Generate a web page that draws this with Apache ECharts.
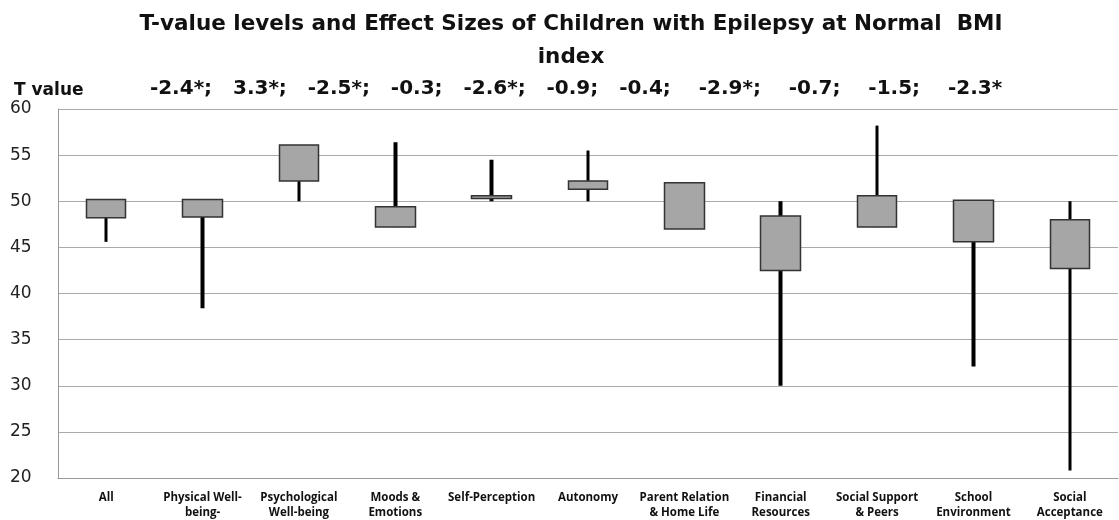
<!DOCTYPE html>
<html>
<head>
<meta charset="utf-8">
<script src="https://cdn.jsdelivr.net/npm/echarts@6/dist/echarts.min.js"></script>
<style>
html,body{margin:0;padding:0;background:#fff}
#main{width:1119px;height:520px}
</style>
</head>
<body>
<div id="main"></div>
<script>
// categories on the x axis
var categories = ['All', 'Physical Well-\nbeing-', 'Psychological\nWell-being', 'Moods &\nEmotions', 'Self-Perception',
	'Autonomy', 'Parent Relation\n& Home Life', 'Financial\nResources', 'Social Support\n& Peers', 'School\nEnvironment', 'Social\nAcceptance']
// box top / bottom
var boxTop = [50.2, 50.2, 56.1, 49.4, 50.6, 52.2, 52.0, 48.4, 50.6, 50.1, 48.0]
var boxBottom = [48.2, 48.3, 52.2, 47.2, 50.3, 51.3, 47.0, 42.5, 47.2, 45.6, 42.7]
// whisker ends
var whiskerLow = [45.6, 38.4, 50.0, 47.2, 50.0, 50.0, 47.0, 30.0, 47.2, 32.1, 20.8]
var whiskerHigh = [50.2, 50.2, 52.2, 56.4, 54.5, 55.5, 52.0, 50.0, 58.2, 50.1, 50.0]
// T values shown above the chart
var tValues = ['-2.4*', '3.3*', '-2.5*', '-0.3', '-2.6*', '-0.9', '-0.4', ' -2.9*', ' -0.7', ' -1.5', ' -2.3*']
var yTicks = [20, 25, 30, 35, 40, 45, 50, 55, 60]

var boxData = [], whiskerData = []
categories.some(function (c, i) {
	boxData.push([boxBottom[i], boxTop[i], boxBottom[i], boxTop[i]])
	whiskerData.push([whiskerLow[i], whiskerHigh[i], whiskerLow[i], whiskerHigh[i]])
})

var myChart = echarts.init(document.getElementById('main'))
var option = {
	animation: false,
	title: [{
		text: 'T-value levels and Effect Sizes of Children with Epilepsy at Normal  BMI\nindex',
		left: 566,
		textAlign: 'center',
		top: 3,
		textStyle: {
			fontFamily: 'DejaVu Sans',
			fontWeight: 'bold',
			fontSize: 21.5,
			lineHeight: 33,
			color: '#111'
		}
	}, {
		text: 'T value',
		left: 9,
		top: 77,
		textStyle: { fontFamily: 'DejaVu Sans', fontWeight: 'bold', fontSize: 17, color: '#111' }
	}, {
		text: tValues.join(';   '),
		left: 571,
		textAlign: 'center',
		top: 74,
		textStyle: { fontFamily: 'DejaVu Sans', fontWeight: 'bold', fontSize: 20, color: '#111' }
	}],
	grid: {
		left: 58,
		right: 1,
		top: 109,
		bottom: 42
	},
	xAxis: {
		type: 'category',
		data: categories,
		axisLine: { lineStyle: { color: '#999', width: 1 } },
		axisTick: { show: false },
		axisLabel: {
			interval: 0,
			margin: 12,
			fontFamily: 'Open Sans',
			fontWeight: 'bold',
			fontSize: 11.5,
			lineHeight: 15,
			color: '#111'
		}
	},
	yAxis: {
		type: 'value',
		min: yTicks[0],
		max: yTicks[yTicks.length - 1],
		interval: 5,
		axisLine: { show: true, lineStyle: { color: '#999' } },
		axisTick: { show: false },
		splitLine: { lineStyle: { color: '#aaa', width: 1 } },
		axisLabel: {
			align: 'left',
			margin: 48,
			fontFamily: 'DejaVu Sans',
			fontSize: 17,
			color: '#222'
		}
	},
	series: [{
		name: 'whisker',
		type: 'candlestick',
		barWidth: 4,
		data: whiskerData,
		itemStyle: {
			color: '#000', color0: '#000',
			borderColor: '#000', borderColor0: '#000',
			borderWidth: 0
		}
	}, {
		name: 'box',
		type: 'candlestick',
		barWidth: 40,
		data: boxData,
		itemStyle: {
			color: '#a6a6a6', color0: '#a6a6a6',
			borderColor: '#333', borderColor0: '#333',
			borderWidth: 1.5
		}
	}]
}
myChart.setOption(option)
</script>
</body>
</html>
